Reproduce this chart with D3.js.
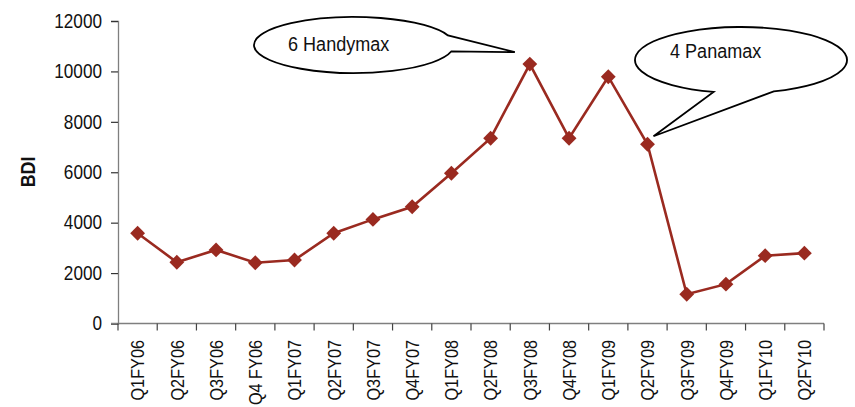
<!DOCTYPE html>
<html>
<head>
<meta charset="utf-8">
<script src="https://cdn.jsdelivr.net/npm/d3@7"></script>
<style>
  html, body { margin: 0; padding: 0; background: #fff; }
  svg { display: block; }
  text { font-family: "Liberation Sans", Arial, sans-serif; }
</style>
</head>
<body>
<svg id="chart" width="855" height="407"></svg>
<script>
// Baltic Dry Index, quarterly
const quarters = ["Q1FY06", "Q2FY06", "Q3FY06", "Q4 FY06", "Q1FY07", "Q2FY07", "Q3FY07", "Q4FY07",
                  "Q1FY08", "Q2FY08", "Q3FY08", "Q4FY08", "Q1FY09", "Q2FY09", "Q3FY09", "Q4FY09",
                  "Q1FY10", "Q2FY10"];
const bdiValues = [3580, 2430, 2920, 2410, 2520, 3580, 4130, 4630,
                   5960, 7350, 10290, 7350, 9790, 7110, 1160, 1560, 2690, 2790];
const yTicks = [0, 2000, 4000, 6000, 8000, 10000, 12000];
const yTitle = "BDI";

// Callout notes attached to a quarter
const calloutText = ["6 Handymax", "4 Panamax"];
const calloutQuarter = ["Q3FY08", "Q2FY09"];

const svg = d3.select("#chart");
const margin = { left: 118, right: 31, top: 21, bottom: 83.5 };
const W = 855, H = 407;
const narrow = 0.88;   // horizontal squeeze for a condensed look

const x = d3.scaleBand().domain(quarters).range([margin.left, W - margin.right]);
const y = d3.scaleLinear().domain([0, 12000]).range([H - margin.bottom, margin.top]);

const axisColor = "#7f7f7f";
const lineColor = "#9a2a20";

// Y axis
const yAxis = svg.append("g")
  .attr("transform", `translate(${margin.left},0)`)
  .call(d3.axisLeft(y).tickValues(yTicks).tickSize(7).tickPadding(9).tickFormat(d3.format("d")));
yAxis.select(".domain").attr("stroke", axisColor).attr("stroke-width", 1.3);
yAxis.selectAll(".tick line").attr("stroke", "#333").attr("stroke-width", 1.2);
yAxis.selectAll(".tick text")
  .attr("fill", "#111")
  .attr("x", -16 / narrow)
  .attr("transform", `scale(${narrow},1)`)
  .style("font-size", "19.5px")
  .style("font-family", "\"Liberation Sans\", Arial, sans-serif");

// X axis line and category boundary ticks
const xg = svg.append("g").attr("transform", `translate(0,${y(0)})`);
xg.append("line")
  .attr("x1", x.range()[0] - 7).attr("x2", x.range()[1])
  .attr("stroke", axisColor).attr("stroke-width", 1.3);
const bounds = quarters.map(q => x(q)).concat([x.range()[1]]);
xg.selectAll("line.bt").data(bounds).join("line")
  .attr("class", "bt")
  .attr("x1", d => d).attr("x2", d => d)
  .attr("y1", 0).attr("y2", 7)
  .attr("stroke", "#444").attr("stroke-width", 1.2);

// Rotated category labels
xg.selectAll("text.ql").data(quarters).join("text")
  .attr("class", "ql")
  .attr("transform", d => `translate(${x(d) + x.bandwidth() / 2 + 6.8},16.5) rotate(-90) scale(${narrow},1)`)
  .attr("text-anchor", "end")
  .attr("fill", "#111")
  .style("font-size", "18.5px")
  .text(d => d);

// Y axis title
svg.append("text")
  .attr("transform", `translate(35,172) rotate(-90) scale(0.85,1)`)
  .attr("text-anchor", "middle")
  .style("font-size", "21px")
  .style("font-weight", "bold")
  .attr("fill", "#111")
  .text(yTitle);

// Series line
const pts = quarters.map((q, i) => ({ q, v: bdiValues[i] }));
const cx = d => x(d.q) + x.bandwidth() / 2;
svg.append("path")
  .datum(pts)
  .attr("fill", "none")
  .attr("stroke", lineColor)
  .attr("stroke-width", 2.6)
  .attr("d", d3.line().x(cx).y(d => y(d.v)));

// Diamond markers
svg.selectAll("path.mk").data(pts).join("path")
  .attr("class", "mk")
  .attr("transform", d => `translate(${cx(d)},${y(d.v)}) rotate(45)`)
  .attr("d", d3.symbol().type(d3.symbolSquare).size(110))
  .attr("fill", lineColor);

// Speech-bubble callouts
function bubble(cxE, cyE, rx, ry, a1, a2, tip) {
  // ellipse arc from angle a2 round to a1 (degrees, SVG y-down), then tail to tip
  const p = a => [cxE + rx * Math.cos(a * Math.PI / 180), cyE + ry * Math.sin(a * Math.PI / 180)];
  const s = p(a1), e = p(a2);
  const span = (a1 - a2 + 360) % 360;
  const large = span > 180 ? 1 : 0;
  return `M${e[0]},${e[1]} A${rx},${ry} 0 ${large} 1 ${s[0]},${s[1]} L${tip[0]},${tip[1]} Z`;
}

// Handymax note: tail points right to the Q3FY08 peak
const iH = quarters.indexOf(calloutQuarter[0]);
const tipH = [cx(pts[iH]) - 15, y(bdiValues[iH]) - 12];
svg.append("path")
  .attr("d", bubble(354, 45, 100, 28, -20, 13, tipH))
  .attr("fill", "#fff").attr("stroke", "#000").attr("stroke-width", 1.8)
  .attr("stroke-linejoin", "miter");
svg.append("text")
  .attr("transform", `translate(288,51) scale(0.86,1)`)
  .style("font-size", "21px")
  .attr("fill", "#111")
  .text(calloutText[0]);

// Panamax note: tail points down-left to the Q2FY09 point
const iP = quarters.indexOf(calloutQuarter[1]);
const tipP = [cx(pts[iP]) + 6, y(bdiValues[iP]) - 8];
svg.append("path")
  .attr("d", bubble(741, 60, 106, 33, 72, 105, tipP))
  .attr("fill", "#fff").attr("stroke", "#000").attr("stroke-width", 1.8)
  .attr("stroke-linejoin", "miter");
svg.append("text")
  .attr("transform", `translate(670,58) scale(0.86,1)`)
  .style("font-size", "21px")
  .attr("fill", "#111")
  .text(calloutText[1]);
</script>
</body>
</html>
